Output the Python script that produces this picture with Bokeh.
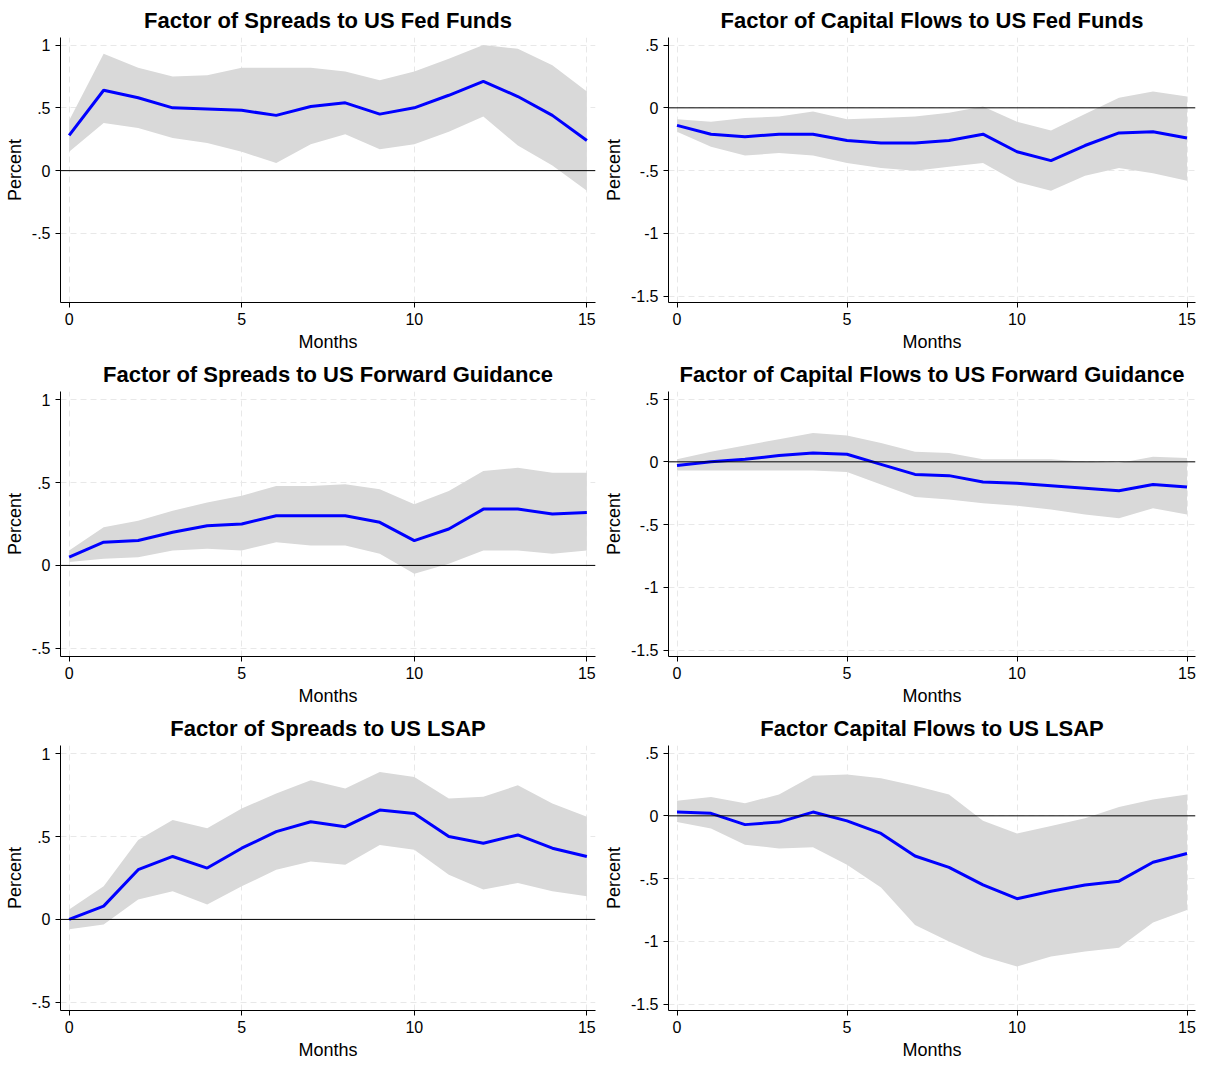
from bokeh.plotting import figure
from bokeh.layouts import gridplot
from bokeh.models import Span, FixedTicker, Range1d
from bokeh.embed import file_html
from bokeh.resources import INLINE

months = list(range(16))

# Spreads to Fed Funds
sp_ff = [0.28, 0.64, 0.58, 0.50, 0.49, 0.48, 0.44, 0.51, 0.54, 0.45, 0.50, 0.60, 0.71, 0.59, 0.44, 0.24]
sp_ff_hi = [0.40, 0.93, 0.82, 0.75, 0.76, 0.82, 0.82, 0.82, 0.79, 0.72, 0.79, 0.89, 1.00, 0.97, 0.84, 0.63]
sp_ff_lo = [0.15, 0.38, 0.34, 0.26, 0.22, 0.15, 0.06, 0.21, 0.29, 0.17, 0.21, 0.31, 0.43, 0.20, 0.04, -0.16]

# Capital flows to Fed Funds
cf_ff = [-0.14, -0.21, -0.23, -0.21, -0.21, -0.26, -0.28, -0.28, -0.26, -0.21, -0.35, -0.42, -0.30, -0.20, -0.19, -0.24]
cf_ff_hi = [-0.09, -0.11, -0.08, -0.07, -0.03, -0.09, -0.08, -0.07, -0.04, 0.01, -0.11, -0.18, -0.05, 0.08, 0.13, 0.09]
cf_ff_lo = [-0.19, -0.31, -0.38, -0.36, -0.38, -0.44, -0.48, -0.50, -0.47, -0.44, -0.59, -0.66, -0.54, -0.48, -0.52, -0.58]

# Spreads to Forward Guidance
sp_fg = [0.05, 0.14, 0.15, 0.20, 0.24, 0.25, 0.30, 0.30, 0.30, 0.26, 0.15, 0.22, 0.34, 0.34, 0.31, 0.32]
sp_fg_hi = [0.09, 0.23, 0.27, 0.33, 0.38, 0.42, 0.48, 0.48, 0.49, 0.46, 0.37, 0.45, 0.57, 0.59, 0.56, 0.56]
sp_fg_lo = [0.02, 0.04, 0.05, 0.09, 0.10, 0.09, 0.14, 0.12, 0.12, 0.07, -0.05, 0.01, 0.09, 0.09, 0.07, 0.09]

# Capital flows to Forward Guidance
cf_fg = [-0.03, 0.00, 0.02, 0.05, 0.07, 0.06, -0.02, -0.10, -0.11, -0.16, -0.17, -0.19, -0.21, -0.23, -0.18, -0.20]
cf_fg_hi = [0.02, 0.08, 0.13, 0.18, 0.23, 0.21, 0.15, 0.08, 0.07, 0.02, 0.02, 0.02, 0.00, -0.01, 0.04, 0.03]
cf_fg_lo = [-0.07, -0.07, -0.07, -0.07, -0.07, -0.08, -0.18, -0.28, -0.30, -0.33, -0.35, -0.38, -0.42, -0.45, -0.37, -0.42]

# Spreads to LSAP
sp_ls = [0.00, 0.08, 0.30, 0.38, 0.31, 0.43, 0.53, 0.59, 0.56, 0.66, 0.64, 0.50, 0.46, 0.51, 0.43, 0.38]
sp_ls_hi = [0.06, 0.20, 0.48, 0.60, 0.55, 0.67, 0.76, 0.84, 0.79, 0.89, 0.86, 0.73, 0.74, 0.81, 0.70, 0.62]
sp_ls_lo = [-0.06, -0.03, 0.12, 0.17, 0.09, 0.20, 0.30, 0.35, 0.33, 0.45, 0.42, 0.27, 0.18, 0.22, 0.17, 0.14]

# Capital flows to LSAP
cf_ls = [0.03, 0.02, -0.07, -0.05, 0.03, -0.04, -0.14, -0.32, -0.41, -0.55, -0.66, -0.60, -0.55, -0.52, -0.37, -0.30]
cf_ls_hi = [0.12, 0.15, 0.10, 0.17, 0.32, 0.33, 0.30, 0.24, 0.17, -0.04, -0.14, -0.08, -0.02, 0.07, 0.13, 0.17]
cf_ls_lo = [-0.05, -0.10, -0.23, -0.26, -0.25, -0.39, -0.57, -0.87, -1.00, -1.12, -1.20, -1.12, -1.08, -1.05, -0.85, -0.75]

FONT = "Liberation Sans"
left_ticks = [-0.5, 0, 0.5, 1]
right_ticks = [-1.5, -1, -0.5, 0, 0.5]
labels = {-1.5: "-1.5", -1: "-1", -0.5: "-.5", 0: "0", 0.5: ".5", 1: "1"}


def panel(title, mid, hi, lo, yr, ticks):
    p = figure(width=600, height=354, output_backend="svg", toolbar_location=None,
               title=title, x_range=Range1d(-0.25, 15.25), y_range=Range1d(*yr))
    p.title.align = "center"
    p.title.text_font = FONT
    p.title.text_font_size = "16.5pt"
    p.title.text_font_style = "bold"
    p.title.text_color = "black"
    p.outline_line_color = None
    p.min_border_left = 60
    p.min_border_top = 12
    p.min_border_bottom = 8
    p.varea(x=months, y1=lo, y2=hi, fill_color="#d9d9d9")
    p.add_layout(Span(location=0, dimension="width", line_color="black", line_width=1))
    p.line(months, mid, line_color="blue", line_width=3)
    p.xaxis.ticker = FixedTicker(ticks=[0, 5, 10, 15])
    p.yaxis.ticker = FixedTicker(ticks=ticks)
    p.yaxis.major_label_overrides = labels
    p.xaxis.axis_label = "Months"
    p.yaxis.axis_label = "Percent"
    for ax in (p.xaxis, p.yaxis):
        ax.axis_label_text_font = FONT
        ax.axis_label_text_font_style = "normal"
        ax.axis_label_text_font_size = "13.5pt"
        ax.axis_label_text_color = "black"
        ax.axis_label_standoff = 4
        ax.major_label_text_font = FONT
        ax.major_label_text_font_size = "12pt"
        ax.major_label_text_color = "black"
        ax.axis_line_color = "black"
        ax.major_tick_line_color = "black"
        ax.minor_tick_line_color = None
        ax.major_tick_in = 0
        ax.major_tick_out = 5
    for g in (p.xgrid, p.ygrid):
        g.grid_line_color = "#e8e8e8"
        g.grid_line_dash = "6 4"
    return p


left_r = (-1.05, 1.06)
right_r = (-1.55, 0.56)
low_r = (-0.55, 1.05)

p = gridplot([
    [panel("Factor of Spreads to US Fed Funds", sp_ff, sp_ff_hi, sp_ff_lo, left_r, left_ticks),
     panel("Factor of Capital Flows to US Fed Funds", cf_ff, cf_ff_hi, cf_ff_lo, right_r, right_ticks)],
    [panel("Factor of Spreads to US Forward Guidance", sp_fg, sp_fg_hi, sp_fg_lo, low_r, left_ticks),
     panel("Factor of Capital Flows to US Forward Guidance", cf_fg, cf_fg_hi, cf_fg_lo, right_r, right_ticks)],
    [panel("Factor of Spreads to US LSAP", sp_ls, sp_ls_hi, sp_ls_lo, low_r, left_ticks),
     panel("Factor Capital Flows to US LSAP", cf_ls, cf_ls_hi, cf_ls_lo, right_r, right_ticks)],
], toolbar_location=None)

open("out.html", "w").write(file_html(p, INLINE))
